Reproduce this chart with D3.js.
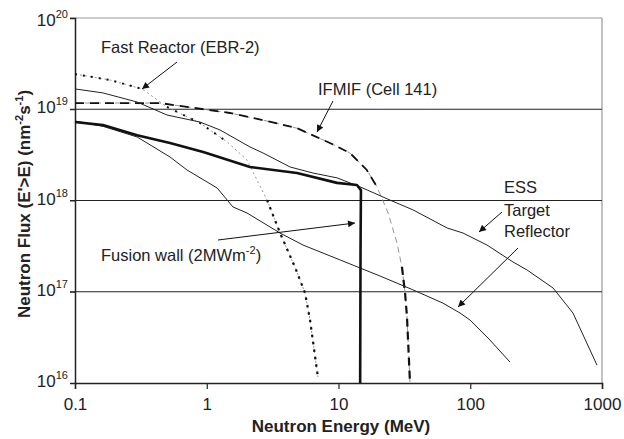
<!DOCTYPE html>
<html>
<head>
<meta charset="utf-8">
<script src="https://cdn.jsdelivr.net/npm/d3@7"></script>
<style>
  body { margin: 0; background: #fff; }
  text { font-family: "Liberation Sans", Arial, sans-serif; fill: #222; }
</style>
</head>
<body>
<svg></svg>
<script>
const width = 624;
const height = 439;

// energies (MeV) and integral flux (n m^-2 s^-1)
const fastReactorE = [0.1, 0.185, 0.323, 0.499, 0.889, 1.43, 2.02, 2.87, 3.6, 4.67, 5.57, 6.08, 6.98];
const fastReactorF = [2.43e19, 2.09e19, 1.67e19, 1.06e19, 7.06e18, 4.38e18, 2.78e18, 1.01e18, 4.4e17, 1.87e17, 9.7e16, 4.9e16, 1.16e16];

const ifmifE = [0.1, 0.44, 1.5, 2.67, 4.84, 8.61, 12.2, 16.4, 19.6, 23.8, 27.8, 30.3, 32.0, 33.1, 34.9];
const ifmifF = [1.17e19, 1.17e19, 9.1e18, 7.6e18, 6.2e18, 4.27e18, 3.32e18, 2.16e18, 1.41e18, 7.3e17, 3.42e17, 1.87e17, 9.7e16, 5.3e16, 1e16];

const fusionE = [0.1, 0.163, 0.296, 0.526, 0.94, 2.13, 4.84, 9.75, 13.8, 14.8, 14.7, 14.6];
const fusionF = [7.24e18, 6.7e18, 5.2e18, 4.27e18, 3.4e18, 2.33e18, 2.0e18, 1.56e18, 1.48e18, 1.3e18, 3e17, 1e16];

const targetE = [0.1, 0.163, 0.296, 0.499, 0.889, 1.26, 2.13, 2.67, 4.29, 6.4, 9.75, 14.6, 24.6, 36.7, 66.7, 88.1, 134, 211, 270, 425, 602, 916];
const targetF = [1.67e19, 1.51e19, 1.2e19, 8.65e18, 7.24e18, 5.93e18, 3.86e18, 3.32e18, 2.33e18, 2.0e18, 1.77e18, 1.41e18, 1.01e18, 7.9e17, 5.0e17, 4.4e17, 3.25e17, 2.12e17, 1.73e17, 1.1e17, 5.85e16, 1.57e16];

const reflectorE = [0.1, 0.163, 0.296, 0.526, 0.708, 1.2, 1.58, 2.02, 3.6, 5.38, 10.3, 14.6, 20.6, 36.7, 62.1, 83.6, 99.5, 141, 200];
const reflectorF = [7.43e18, 6.5e18, 4.97e18, 3.0e18, 2.16e18, 1.37e18, 8.5e17, 7.3e17, 4.4e17, 3.25e17, 2.23e17, 1.82e17, 1.49e17, 1.05e17, 7.5e16, 5.85e16, 4.9e16, 2.96e16, 1.7e16];

const xTicks = [0.1, 1, 10, 100, 1000];
const xTickLabels = ["0.1", "1", "10", "100", "1000"];
const yTicks = [1e16, 1e17, 1e18, 1e19, 1e20];
const yTickExps = ["16", "17", "18", "19", "20"];

const svg = d3.select('svg').attr('width', width).attr('height', height);

const x = d3.scaleLog().domain([0.1, 1000]).range([75, 602]);
const y = d3.scaleLog().domain([1e16, 1e20]).range([383, 18]);

// frame: grey top / right edges
svg.append('line').attr('x1', 70).attr('x2', 602).attr('y1', y(1e20)).attr('y2', y(1e20))
    .attr('stroke', '#999').attr('stroke-width', 1.2);
svg.append('line').attr('x1', 602).attr('x2', 602).attr('y1', 18).attr('y2', 383)
    .attr('stroke', '#999').attr('stroke-width', 1.2);

// horizontal gridlines
svg.selectAll('.grid')
    .data(yTicks.slice(1, 4))
    .enter().append('line')
    .attr('class', 'grid')
    .attr('x1', 70).attr('x2', 602)
    .attr('y1', d => y(d)).attr('y2', d => y(d))
    .attr('stroke', '#222').attr('stroke-width', 1);

// x axis
const xAxis = svg.append('g')
    .attr('transform', `translate(0,${y(1e16)})`)
    .call(d3.axisBottom(x).tickValues(xTicks).tickSize(6).tickFormat((d, i) => xTickLabels[i]));
xAxis.select('.domain').attr('stroke', '#222').attr('stroke-width', 1.5);
xAxis.selectAll('.tick line').attr('stroke', '#222').attr('stroke-width', 1.2);
xAxis.selectAll('.tick text')
    .attr('y', 27).attr('dy', null)
    .style('font-size', '17px').style('font-family', '"Liberation Sans", Arial, sans-serif').attr('fill', '#222');

// y axis
const yAxis = svg.append('g')
    .attr('transform', `translate(${x(0.1)},0)`)
    .call(d3.axisLeft(y).tickValues(yTicks).tickSize(5).tickFormat(''));
yAxis.select('.domain').attr('stroke', '#222').attr('stroke-width', 1.5);
yAxis.selectAll('.tick line').attr('stroke', '#222');

const yLab = svg.selectAll('.ylab')
    .data(yTicks)
    .enter().append('text')
    .attr('class', 'ylab')
    .attr('x', 68)
    .attr('text-anchor', 'end')
    .attr('y', d => y(d) + (d === 1e20 ? 8 : 4))
    .style('font-size', '17px');
yLab.append('tspan').text('10');
yLab.append('tspan').attr('dy', -8).style('font-size', '11px').text((d, i) => yTickExps[i]);

// curves
const line = d3.line().x(d => x(d[0])).y(d => y(d[1]));
const zipper = (E, F) => E.map((e, i) => [e, F[i]]);

const fast = zipper(fastReactorE, fastReactorF);
const ifmif = zipper(ifmifE, ifmifF);

svg.append('path').attr('d', line(fast)).attr('fill', 'none')
    .attr('stroke', '#888').attr('stroke-width', 0.9).attr('stroke-dasharray', '2,3');
svg.append('path').attr('d', line(fast.slice(0, 3))).attr('fill', 'none')
    .attr('stroke', '#111').attr('stroke-width', 2).attr('stroke-dasharray', '2,6');
svg.append('path').attr('d', line(fast.slice(3, 6))).attr('fill', 'none')
    .attr('stroke', '#111').attr('stroke-width', 2).attr('stroke-dasharray', '2,7');
svg.append('path').attr('d', line(fast.slice(7))).attr('fill', 'none')
    .attr('stroke', '#111').attr('stroke-width', 2.2).attr('stroke-dasharray', '2.5,5');

svg.append('path').attr('d', line(ifmif)).attr('fill', 'none')
    .attr('stroke', '#888').attr('stroke-width', 0.9).attr('stroke-dasharray', '6,4');
svg.append('path').attr('d', line(ifmif.slice(0, 9))).attr('fill', 'none')
    .attr('stroke', '#111').attr('stroke-width', 1.8).attr('stroke-dasharray', '9,6');
svg.append('path').attr('d', line(ifmif.slice(11))).attr('fill', 'none')
    .attr('stroke', '#111').attr('stroke-width', 2.2).attr('stroke-dasharray', '8,5');

svg.append('path').attr('d', line(zipper(reflectorE, reflectorF))).attr('fill', 'none')
    .attr('stroke', '#222').attr('stroke-width', 1);
svg.append('path').attr('d', line(zipper(targetE, targetF))).attr('fill', 'none')
    .attr('stroke', '#222').attr('stroke-width', 1);
svg.append('path').attr('d', line(zipper(fusionE, fusionF))).attr('fill', 'none')
    .attr('stroke', '#111').attr('stroke-width', 2.6).attr('stroke-linejoin', 'round');

// annotations with arrows
svg.append('defs').append('marker')
    .attr('id', 'arrow').attr('viewBox', '0 0 10 10')
    .attr('refX', 10).attr('refY', 5)
    .attr('markerWidth', 9).attr('markerHeight', 7)
    .attr('markerUnits', 'userSpaceOnUse')
    .attr('orient', 'auto')
    .append('path').attr('d', 'M0,0 L10,5 L0,10 Z').attr('fill', '#111');

function arrow(x1, y1, x2, y2) {
    svg.append('line')
        .attr('x1', x1).attr('y1', y1).attr('x2', x2).attr('y2', y2)
        .attr('stroke', '#111').attr('stroke-width', 1)
        .attr('marker-end', 'url(#arrow)');
}

function label(tx, ty, t) {
    return svg.append('text').attr('x', tx).attr('y', ty).style('font-size', '16.5px').text(t);
}

label(101, 53, 'Fast Reactor (EBR-2)');
arrow(177, 62, 142, 89);

label(318, 95, 'IFMIF (Cell 141)');
arrow(333, 101, 317, 132);

label(504, 193, 'ESS');
label(504, 216, 'Target');
label(504, 237, 'Reflector');
arrow(502, 212, 479, 232);
arrow(518, 248, 458, 307);

const fw = label(101, 261, 'Fusion wall (2MWm');
fw.append('tspan').attr('dy', -7).style('font-size', '11px').text('-2');
fw.append('tspan').attr('dy', 7).text(')');
arrow(218, 240, 355, 223);

// axis titles
svg.append('text')
    .attr('x', 341).attr('y', 432)
    .attr('text-anchor', 'middle')
    .style('font-size', '17px').style('font-weight', 'bold')
    .text('Neutron Energy (MeV)');

const yt = svg.append('text')
    .attr('transform', 'translate(30,204) rotate(-90)')
    .attr('text-anchor', 'middle')
    .style('font-size', '17px').style('font-weight', 'bold');
yt.append('tspan').text("Neutron Flux (E'>E) (nm");
yt.append('tspan').attr('dy', -7).style('font-size', '11px').text('-2');
yt.append('tspan').attr('dy', 7).text('s');
yt.append('tspan').attr('dy', -7).style('font-size', '11px').text('-1');
yt.append('tspan').attr('dy', 7).text(')');
</script>
</body>
</html>
